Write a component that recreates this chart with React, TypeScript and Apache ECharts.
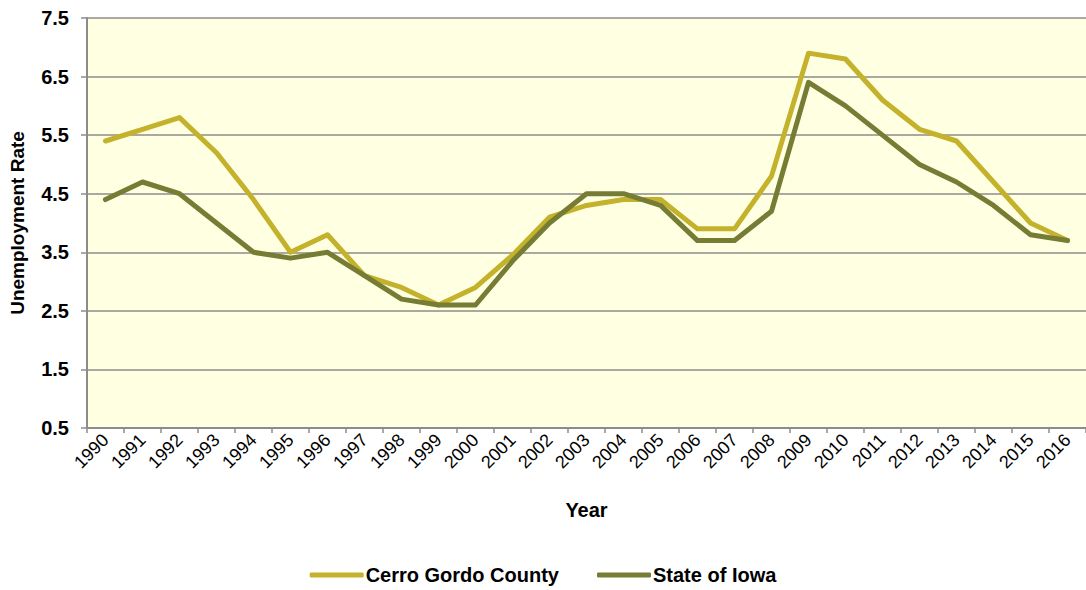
import React, { useEffect, useRef } from "react";
import * as echarts from "echarts";

const years = ["1990","1991","1992","1993","1994","1995","1996","1997","1998","1999","2000","2001","2002","2003","2004","2005","2006","2007","2008","2009","2010","2011","2012","2013","2014","2015","2016"];
const cerroGordo = [5.4,5.6,5.8,5.2,4.4,3.5,3.8,3.1,2.9,2.6,2.9,3.45,4.1,4.3,4.4,4.4,3.9,3.9,4.8,6.9,6.8,6.1,5.6,5.4,4.7,4.0,3.7];
const iowa = [4.4,4.7,4.5,4.0,3.5,3.4,3.5,3.1,2.7,2.6,2.6,3.35,4.0,4.5,4.5,4.3,3.7,3.7,4.2,6.4,6.0,5.5,5.0,4.7,4.3,3.8,3.7];
const yMin = 0.5;
const yMax = 7.5;
const yStep = 1;

const FONT = "Liberation Sans, Arial, sans-serif";
const YELLOW = "#C4B22D";
const GREEN = "#777C35";

export default function App() {
  const ref = useRef<HTMLDivElement>(null);
  useEffect(() => {
    document.body.style.margin = "0";
    const chart = echarts.init(ref.current!, null, { renderer: "svg" });
    chart.setOption({
      animation: false,
      textStyle: { fontFamily: FONT },
      grid: {
        left: 86,
        top: 18,
        bottom: 162,
        right: -7,
        show: true,
        backgroundColor: "#FFFFE1",
        borderWidth: 0,
      },
      legend: {
        bottom: 0,
        left: "center",
        icon: "roundRect",
        itemWidth: 54,
        itemHeight: 5,
        itemGap: 38,
        textStyle: { fontFamily: FONT, fontSize: 20, fontWeight: "bold", color: "#000", padding: [0, 0, 0, -3] },
        data: ["Cerro Gordo County", "State of Iowa"],
      },
      xAxis: {
        type: "category",
        data: years,
        boundaryGap: true,
        name: "Year",
        nameLocation: "middle",
        nameGap: 72,
        nameTextStyle: { fontFamily: FONT, fontSize: 20, fontWeight: "bold", color: "#000" },
        axisLine: { lineStyle: { color: "#8C8C8C", width: 2 } },
        axisTick: { show: true, length: 5, lineStyle: { color: "#8C8C8C", width: 1.5 } },
        axisLabel: { rotate: 45, fontSize: 18, color: "#000", fontFamily: FONT, interval: 0, margin: 9 },
        splitLine: { show: false },
      },
      yAxis: {
        type: "value",
        min: yMin,
        max: yMax,
        interval: yStep,
        name: "Unemployment Rate",
        nameLocation: "middle",
        nameGap: 60,
        nameTextStyle: { fontFamily: FONT, fontSize: 19, fontWeight: "bold", color: "#000" },
        axisLine: { show: true, lineStyle: { color: "#8C8C8C", width: 2 } },
        axisTick: { show: true, length: 6, lineStyle: { color: "#8C8C8C", width: 1.5 } },
        axisLabel: {
          fontSize: 20,
          fontWeight: "bold",
          color: "#000",
          fontFamily: FONT,
          margin: 18,
          formatter: (v: number) => v.toFixed(1),
        },
        splitLine: { show: true, lineStyle: { color: "#8C8C8C", width: 1.5 } },
      },
      series: [
        {
          name: "Cerro Gordo County",
          type: "line",
          data: cerroGordo,
          showSymbol: false,
          symbol: "none",
          lineStyle: { color: YELLOW, width: 5, cap: "round", join: "round" },
          itemStyle: { color: YELLOW },
          z: 2,
        },
        {
          name: "State of Iowa",
          type: "line",
          data: iowa,
          showSymbol: false,
          symbol: "none",
          lineStyle: { color: GREEN, width: 5, cap: "round", join: "round" },
          itemStyle: { color: GREEN },
          z: 3,
        },
      ],
    });
    return () => chart.dispose();
  }, []);
  return <div ref={ref} style={{ width: 1086, height: 590 }} />;
}
